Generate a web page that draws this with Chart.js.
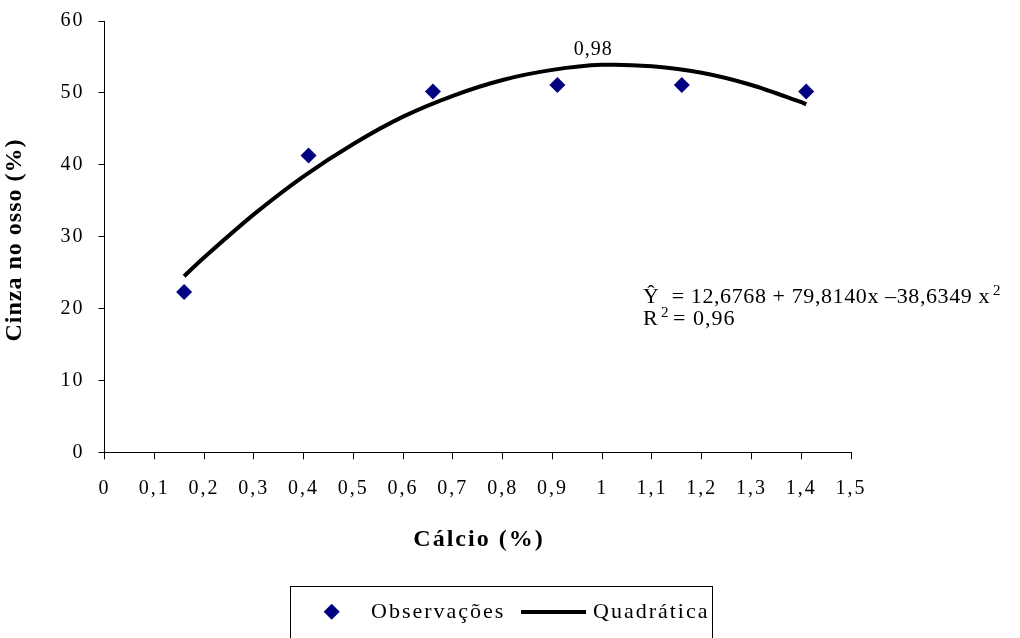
<!DOCTYPE html>
<html>
<head>
<meta charset="utf-8">
<script src="https://cdn.jsdelivr.net/npm/chart.js@4/dist/chart.umd.min.js"></script>
<style>
  html, body { margin: 0; padding: 0; background: #fff; }
  #wrap { width: 1020px; height: 638px; }
</style>
</head>
<body>
<div id="wrap"><canvas id="myChart" width="1020" height="638"></canvas></div>
<script>
// Observed points (Cálcio %, Cinza no osso %)
const obsX = [0.16, 0.41, 0.66, 0.91, 1.16, 1.41];
const obsY = [22.3, 41.3, 50.2, 51.1, 51.1, 50.2];

// Quadratic curve
const fitX = [0.16, 0.2, 0.3, 0.4, 0.5, 0.6, 0.7, 0.8, 0.9, 1.0, 1.1, 1.2, 1.3, 1.4, 1.41];
const fitY = [24.5, 27.1, 33.1, 38.4, 42.9, 46.7, 49.6, 51.8, 53.2, 53.9, 53.7, 52.8, 51.1, 48.7, 48.4];

// Tick labels
const xTickLabels = ['0', '0,1', '0,2', '0,3', '0,4', '0,5', '0,6', '0,7', '0,8', '0,9', '1', '1,1', '1,2', '1,3', '1,4', '1,5'];
const yTickLabels = ['0', '10', '20', '30', '40', '50', '60'];

// Texts
const xTitle = 'Cálcio (%)';
const yTitle = 'Cinza no osso (%)';
const peakX = 0.98;
const peakY = 53.9;
const peakLabel = '0,98';
const eqMain = 'Ŷ  = 12,6768 + 79,8140x –38,6349 x';
const eqR = 'R';
const eqRrest = '= 0,96';

const serif = "'Liberation Serif', 'Times New Roman', serif";

// custom texts: axis titles, equation, peak label and the boxed legend
const extrasPlugin = {
    id: 'extras',
    beforeDraw(chart) {
        chart.ctx.letterSpacing = '2px';
    },
    afterDraw(chart) {
        const ctx = chart.ctx;
        const xs = chart.scales.x, ys = chart.scales.y;
        ctx.save();
        ctx.fillStyle = '#000';
        ctx.letterSpacing = '2px';

        // x title
        ctx.font = 'bold 24px ' + serif;
        ctx.textAlign = 'center';
        ctx.textBaseline = 'middle';
        ctx.fillText(xTitle, 479, 540);

        // y title
        ctx.save();
        ctx.translate(15, 240);
        ctx.rotate(-Math.PI / 2);
        ctx.letterSpacing = '1px';
        ctx.fillText(yTitle, 0, 0);
        ctx.restore();

        // peak label
        ctx.font = '20px ' + serif;
        ctx.textBaseline = 'alphabetic';
        ctx.letterSpacing = '1px';
        ctx.fillText(peakLabel, xs.getPixelForValue(peakX) + 1, ys.getPixelForValue(peakY) - 10);

        // equation
        ctx.textAlign = 'left';
        ctx.font = '22px ' + serif;
        ctx.letterSpacing = '0.6px';
        ctx.fillText(eqMain, 643, 303);
        ctx.font = '15px ' + serif;
        ctx.fillText('2', 993, 295);
        ctx.font = '22px ' + serif;
        ctx.fillText(eqR, 643, 325);
        ctx.font = '15px ' + serif;
        ctx.fillText('2', 661, 317);
        ctx.font = '22px ' + serif;
        ctx.letterSpacing = '1px';
        ctx.fillText(eqRrest, 673, 325);

        // legend box
        const ds = chart.data.datasets;
        ctx.letterSpacing = '2px';
        ctx.strokeStyle = '#000';
        ctx.lineWidth = 1;
        ctx.strokeRect(290.5, 586.5, 422, 80);
        // diamond
        ctx.fillStyle = ds[0].backgroundColor;
        ctx.beginPath();
        ctx.moveTo(331.7, 603.7);
        ctx.lineTo(339.7, 611.7);
        ctx.lineTo(331.7, 619.7);
        ctx.lineTo(323.7, 611.7);
        ctx.closePath();
        ctx.fill();
        ctx.fillStyle = '#000';
        ctx.font = '22px ' + serif;
        ctx.textBaseline = 'middle';
        ctx.fillText(ds[0].label, 371, 612);
        // line sample
        ctx.strokeStyle = ds[1].borderColor;
        ctx.lineWidth = 4;
        ctx.beginPath();
        ctx.moveTo(521, 612);
        ctx.lineTo(586, 612);
        ctx.stroke();
        ctx.fillText(ds[1].label, 593, 612);
        ctx.restore();
    }
};

const ctx = document.getElementById('myChart').getContext('2d');
const myChart = new Chart(ctx, {
    type: 'scatter',
    data: {
        datasets: [{
            label: 'Observações',
            data: obsX.map((x, i) => ({ x: x, y: obsY[i] })),
            pointStyle: 'rectRot',
            pointRadius: 8,
            pointHoverRadius: 8,
            backgroundColor: '#000080',
            borderColor: '#000080',
            borderWidth: 0,
            order: 1
        }, {
            label: 'Quadrática',
            data: fitX.map((x, i) => ({ x: x, y: fitY[i] })),
            showLine: true,
            pointRadius: 0,
            borderColor: '#000',
            borderWidth: 4,
            tension: 0.3,
            order: 2
        }]
    },
    options: {
        responsive: false,
        animation: false,
        devicePixelRatio: 1,
        layout: { padding: { left: 0, right: 169, top: 21, bottom: 0 } },
        plugins: {
            legend: { display: false },
            tooltip: { enabled: false }
        },
        scales: {
            x: {
                type: 'linear',
                min: 0,
                max: 1.5,
                ticks: {
                    stepSize: 0.1,
                    autoSkip: false,
                    maxRotation: 0,
                    color: '#000',
                    padding: 17,
                    font: { family: serif, size: 20 },
                    callback: (v, i) => xTickLabels[i]
                },
                grid: { drawOnChartArea: false, drawTicks: true, tickLength: 7, tickColor: '#000' },
                border: { color: '#000', width: 1 },
                afterFit: (scale) => { scale.height = 638 - 452.3; }
            },
            y: {
                min: 0,
                max: 60,
                ticks: {
                    stepSize: 10,
                    color: '#000',
                    padding: 14,
                    font: { family: serif, size: 20 },
                    callback: (v, i) => yTickLabels[i]
                },
                grid: { drawOnChartArea: false, drawTicks: true, tickLength: 6, tickColor: '#000' },
                border: { color: '#000', width: 1 },
                afterFit: (scale) => {
                    scale.width = 104.5;
                    scale.paddingTop = 0;
                    scale.paddingBottom = 0;
                }
            }
        }
    },
    plugins: [extrasPlugin]
});
</script>
</body>
</html>
